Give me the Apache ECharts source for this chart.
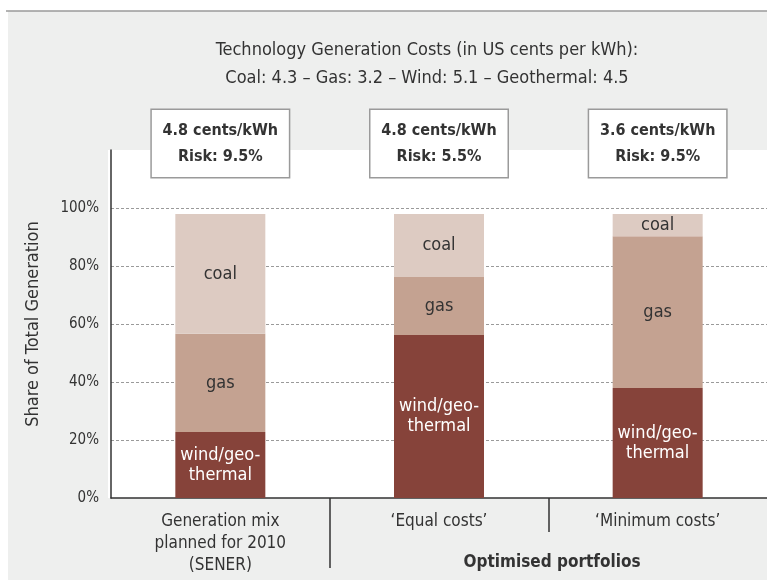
<!DOCTYPE html>
<html>
<head>
<meta charset="utf-8">
<script src="https://cdn.jsdelivr.net/npm/echarts@6/dist/echarts.min.js"></script>
<style>
  html, body { margin: 0; padding: 0; background: #fff; }
  #chart { width: 767px; height: 580px; }
</style>
</head>
<body>
<div id="chart"></div>
<script>
// categories on the x axis
const categories = ['Generation mix\nplanned for 2010\n(SENER)', '\u2018Equal costs\u2019', '\u2018Minimum costs\u2019'];
// shares of total generation (%)
const windGeo = [22.8, 56.2, 37.9];
const gas = [33.8, 20.0, 52.4];
const coal = [41.3, 21.7, 7.6];
// boxes above the bars
const costs = ['4.8', '4.8', '3.6'];
const risks = ['9.5', '5.5', '9.5'];
// y axis ticks
const yTicks = [0, 20, 40, 60, 80, 100];

const FONT = "'Liberation Sans Narrow', 'DejaVu Sans Condensed', Roboto, sans-serif";
const TEXT = '#333';

const chart = echarts.init(document.getElementById('chart'), null, { renderer: 'canvas' });

// hidden value axis used only to draw the group separators below the x axis
function sepAxis(pos, len) {
  return {
    type: 'value', min: 0, max: categories.length, position: 'bottom',
    axisLine: { show: false },
    axisLabel: { show: false },
    splitLine: { show: false },
    axisTick: { show: true, customValues: [pos], length: len, lineStyle: { color: TEXT, width: 1.5 } }
  };
}

const option = {
  backgroundColor: '#fff',
  textStyle: { fontFamily: FONT },
  title: {
    text: 'Technology Generation Costs (in US cents per kWh):\nCoal: 4.3 \u2013 Gas: 3.2 \u2013 Wind: 5.1 \u2013 Geothermal: 4.5',
    left: 422,
    top: 31,
    textAlign: 'center',
    textStyle: { fontFamily: FONT, fontSize: 18, fontWeight: 'normal', color: TEXT, lineHeight: 28 }
  },
  graphic: [
    { type: 'rect', z: -10, shape: { x: 8, y: 11, width: 767, height: 580 }, style: { fill: '#eeefee' } },
    { type: 'rect', z: -9, shape: { x: 108, y: 150, width: 6, height: 348 }, style: { fill: '#fff' } },
    { type: 'line', z: -9, shape: { x1: 6, y1: 11, x2: 767, y2: 11 }, style: { stroke: '#9a9a9a', lineWidth: 1.5 } },
    {
      type: 'text', x: 552, y: 563,
      style: { text: 'Optimised portfolios', font: "bold 17px " + FONT, fill: TEXT, align: 'center', verticalAlign: 'middle' }
    }
  ],
  grid: {
    left: 111, right: -3, top: 150, bottom: 82,
    show: true, backgroundColor: '#fff', borderWidth: 0
  },
  xAxis: [{
    type: 'category',
    data: categories,
    axisLine: { lineStyle: { color: TEXT, width: 1.5 } },
    axisTick: { show: false },
    axisLabel: { fontFamily: FONT, fontSize: 17, color: TEXT, lineHeight: 22, margin: 13, interval: 0 }
  }, sepAxis(1, 70), sepAxis(2, 34)],
  yAxis: {
    type: 'value',
    min: 0, max: 120, interval: 20,
    offset: 3,
    name: 'Share of Total Generation',
    nameLocation: 'middle',
    nameGap: 66,
    nameTextStyle: { fontFamily: FONT, fontSize: 18, color: TEXT },
    axisLine: { show: true, lineStyle: { color: TEXT, width: 1.5 } },
    axisTick: { show: false },
    axisLabel: {
      fontFamily: FONT, fontSize: 15, color: TEXT, margin: 9,
      formatter: (v) => (yTicks.indexOf(v) >= 0 ? v + '%' : '')
    },
    splitLine: {
      show: true, showMinLine: false, showMaxLine: false,
      lineStyle: { color: '#9a9a9a', type: [3, 2], width: 1 }
    }
  },
  series: [{
    name: 'wind/geothermal', type: 'bar', stack: 'mix', barWidth: 90,
    data: windGeo,
    itemStyle: { color: '#86433a' },
    label: { show: true, position: 'inside', formatter: 'wind/geo-\nthermal', fontFamily: FONT, fontSize: 18, lineHeight: 20, color: '#fff' }
  }, {
    name: 'gas', type: 'bar', stack: 'mix', barWidth: 90,
    data: gas,
    itemStyle: { color: '#c4a291' },
    label: { show: true, position: 'inside', formatter: 'gas', fontFamily: FONT, fontSize: 18, color: TEXT }
  }, {
    name: 'coal', type: 'bar', stack: 'mix', barWidth: 90,
    data: coal,
    itemStyle: { color: '#ddcbc2' },
    label: { show: true, position: 'inside', formatter: 'coal', fontFamily: FONT, fontSize: 18, color: TEXT }
  }, {
    name: 'summary', type: 'bar', stack: 'mix', barWidth: 90,
    data: costs.map(() => 0),
    itemStyle: { color: 'transparent' },
    label: {
      show: true, position: 'top', distance: 37,
      formatter: (p) => costs[p.dataIndex] + ' cents/kWh\nRisk: ' + risks[p.dataIndex] + '%',
      fontFamily: FONT, fontSize: 16, fontWeight: 'bold', color: TEXT, lineHeight: 26,
      backgroundColor: '#fff', borderColor: '#9a9a9a', borderWidth: 1.5,
      width: 137, align: 'center', padding: [8, 0, 7, 0]
    }
  }]
};

chart.setOption(option);
</script>
</body>
</html>
